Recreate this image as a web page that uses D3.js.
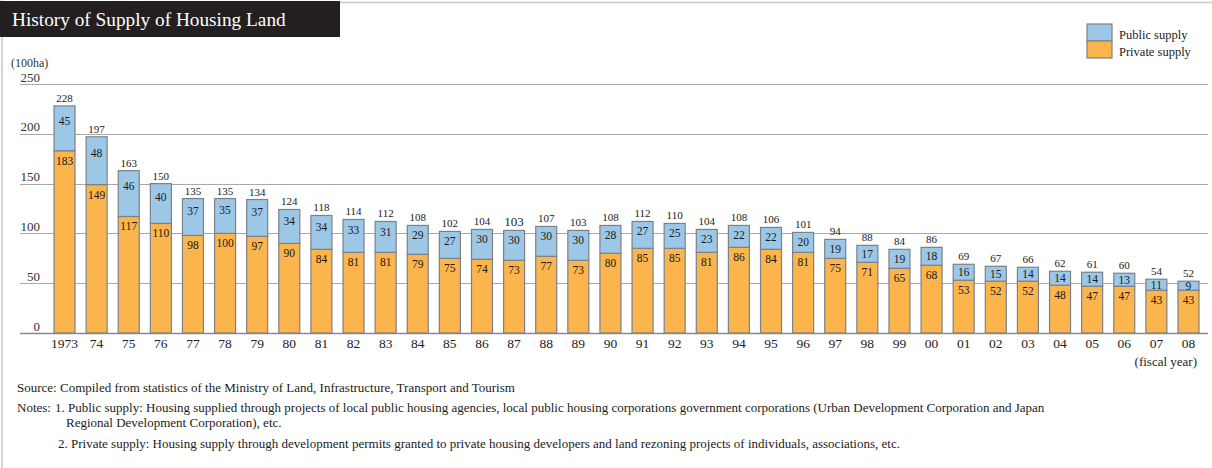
<!DOCTYPE html>
<html><head><meta charset="utf-8">
<script src="https://cdn.jsdelivr.net/npm/d3@7"></script>
<style>
html,body{margin:0;padding:0;background:#fff;}
svg{display:block;font-family:"Liberation Serif","Times New Roman",serif;}
</style></head>
<body>
<svg id="chart" width="1212" height="468"></svg>
<script>
const years = ["1973","74","75","76","77","78","79","80","81","82","83","84","85","86","87","88","89","90","91","92","93","94","95","96","97","98","99","00","01","02","03","04","05","06","07","08"];
const publicSupply = [45,48,46,40,37,35,37,34,34,33,31,29,27,30,30,30,30,28,27,25,23,22,22,20,19,17,19,18,16,15,14,14,14,13,11,9];
const privateSupply = [183,149,117,110,98,100,97,90,84,81,81,79,75,74,73,77,73,80,85,85,81,86,84,81,75,71,65,68,53,52,52,48,47,47,43,43];
const totals = [228,197,163,150,135,135,134,124,118,114,112,108,102,104,103,107,103,108,112,110,104,108,106,101,94,88,84,86,69,67,66,62,61,60,54,52];
const yTicks = [0,50,100,150,200,250];
const seriesNames = ["Public supply","Private supply"];
const colors = {pub:"#9dc7e6", pri:"#fbb54c"};

const svg = d3.select("#chart");

// frame
svg.append("line").attr("x1",340).attr("x2",1212).attr("y1",2.5).attr("y2",2.5).attr("stroke","#c8c8c8").attr("stroke-width",1.5);
svg.append("line").attr("x1",2).attr("x2",2).attr("y1",0).attr("y2",468).attr("stroke","#c8c8c8").attr("stroke-width",1.5);

// title
svg.append("rect").attr("x",0).attr("y",1).attr("width",340).attr("height",36).attr("fill","#231f20");
svg.append("text").attr("x",12).attr("y",26).attr("fill","#fff").attr("font-size",19.3).text("History of Supply of Housing Land");

const y = d3.scaleLinear().domain([0,250]).range([333,84]);
const x = d3.scaleBand().domain(years).range([48.45,1204.55]).paddingInner(0.346).paddingOuter(0.173);

// gridlines
svg.append("g").selectAll("line").data(yTicks).join("line")
  .attr("x1",20).attr("x2",1208)
  .attr("y1",d=>Math.round(y(d))+0.5).attr("y2",d=>Math.round(y(d))+0.5)
  .attr("stroke",d=>d===0?"#8a8a8a":"#a8a8a8").attr("stroke-width",d=>d===0?1.3:1);

// y labels
svg.append("g").selectAll("text").data(yTicks).join("text")
  .attr("x",40).attr("y",d=>y(d)-2.5).attr("text-anchor","end").attr("font-size",13).attr("fill","#333")
  .text(d=>d);
svg.append("text").attr("x",11).attr("y",67).attr("font-size",12).attr("fill","#333").text("(100ha)");

const data = years.map((yr,i)=>({yr, pub:publicSupply[i], pri:privateSupply[i], tot:totals[i]}));
const bw = x.bandwidth();

const g = svg.append("g");
g.selectAll("rect.pri").data(data).join("rect").attr("class","pri")
  .attr("x",d=>x(d.yr)).attr("width",bw)
  .attr("y",d=>y(d.pri)).attr("height",d=>y(0)-y(d.pri))
  .attr("fill",colors.pri).attr("stroke","#7d8186").attr("stroke-width",1.2);
g.selectAll("rect.pub").data(data).join("rect").attr("class","pub")
  .attr("x",d=>x(d.yr)).attr("width",bw)
  .attr("y",d=>y(d.pri+d.pub)).attr("height",d=>y(d.pri)-y(d.pri+d.pub))
  .attr("fill",colors.pub).attr("stroke","#7d8186").attr("stroke-width",1.2);

const cx = d=>x(d.yr)+bw/2;
g.selectAll("text.pubv").data(data).join("text").attr("class","pubv")
  .attr("x",cx).attr("text-anchor","middle").attr("dominant-baseline","central")
  .attr("y",d=>{const top=y(d.pri+d.pub), seg=y(d.pri)-top; return top+Math.max(seg/3,Math.min(seg/2,9.5));})
  .attr("font-size",11.5).attr("fill","#1a1a1a").text(d=>d.pub);
g.selectAll("text.priv").data(data).join("text").attr("class","priv")
  .attr("x",cx).attr("text-anchor","middle").attr("dominant-baseline","central")
  .attr("y",d=>y(d.pri)+10)
  .attr("font-size",11.5).attr("fill","#1a1a1a").text(d=>d.pri);
g.selectAll("text.totv").data(data).join("text").attr("class","totv")
  .attr("x",cx).attr("text-anchor","middle")
  .attr("y",d=>y(d.pri+d.pub)-4)
  .attr("font-size",d=>d.yr==="87"?13:11).attr("fill","#1a1a1a").text(d=>d.tot);

// x labels
svg.append("g").selectAll("text").data(years).join("text")
  .attr("x",d=>x(d)+bw/2).attr("y",348).attr("text-anchor","middle").attr("font-size",13.5).attr("fill","#222")
  .text(d=>d);
svg.append("text").attr("x",1197).attr("y",366).attr("text-anchor","end").attr("font-size",13).attr("fill","#222").text("(fiscal year)");

// legend
const lg = svg.append("g");
lg.append("rect").attr("x",1087).attr("y",24).attr("width",25).attr("height",17).attr("fill",colors.pub).attr("stroke","#7d8186").attr("stroke-width",1.2);
lg.append("rect").attr("x",1087).attr("y",41).attr("width",25).attr("height",17).attr("fill",colors.pri).attr("stroke","#7d8186").attr("stroke-width",1.2);
lg.selectAll("text").data(seriesNames).join("text")
  .attr("x",1119).attr("y",(d,i)=>38.5+i*17.5).attr("font-size",12.5).attr("fill","#222").text(d=>d);

// notes
const notes = [
  {x:17,y:392,t:"Source: Compiled from statistics of the Ministry of Land, Infrastructure, Transport and Tourism"},
  {x:17,y:412,t:"Notes:"},
  {x:55,y:412,t:"1. Public supply: Housing supplied through projects of local public housing agencies, local public housing corporations government corporations (Urban Development Corporation and Japan"},
  {x:66,y:427,t:"Regional Development Corporation), etc."},
  {x:58,y:448,t:"2. Private supply: Housing supply through development permits granted to private housing developers and land rezoning projects of individuals, associations, etc."}
];
svg.append("g").selectAll("text").data(notes).join("text")
  .attr("x",d=>d.x).attr("y",d=>d.y).attr("font-size",13).attr("fill","#222").text(d=>d.t);
</script>
</body></html>
